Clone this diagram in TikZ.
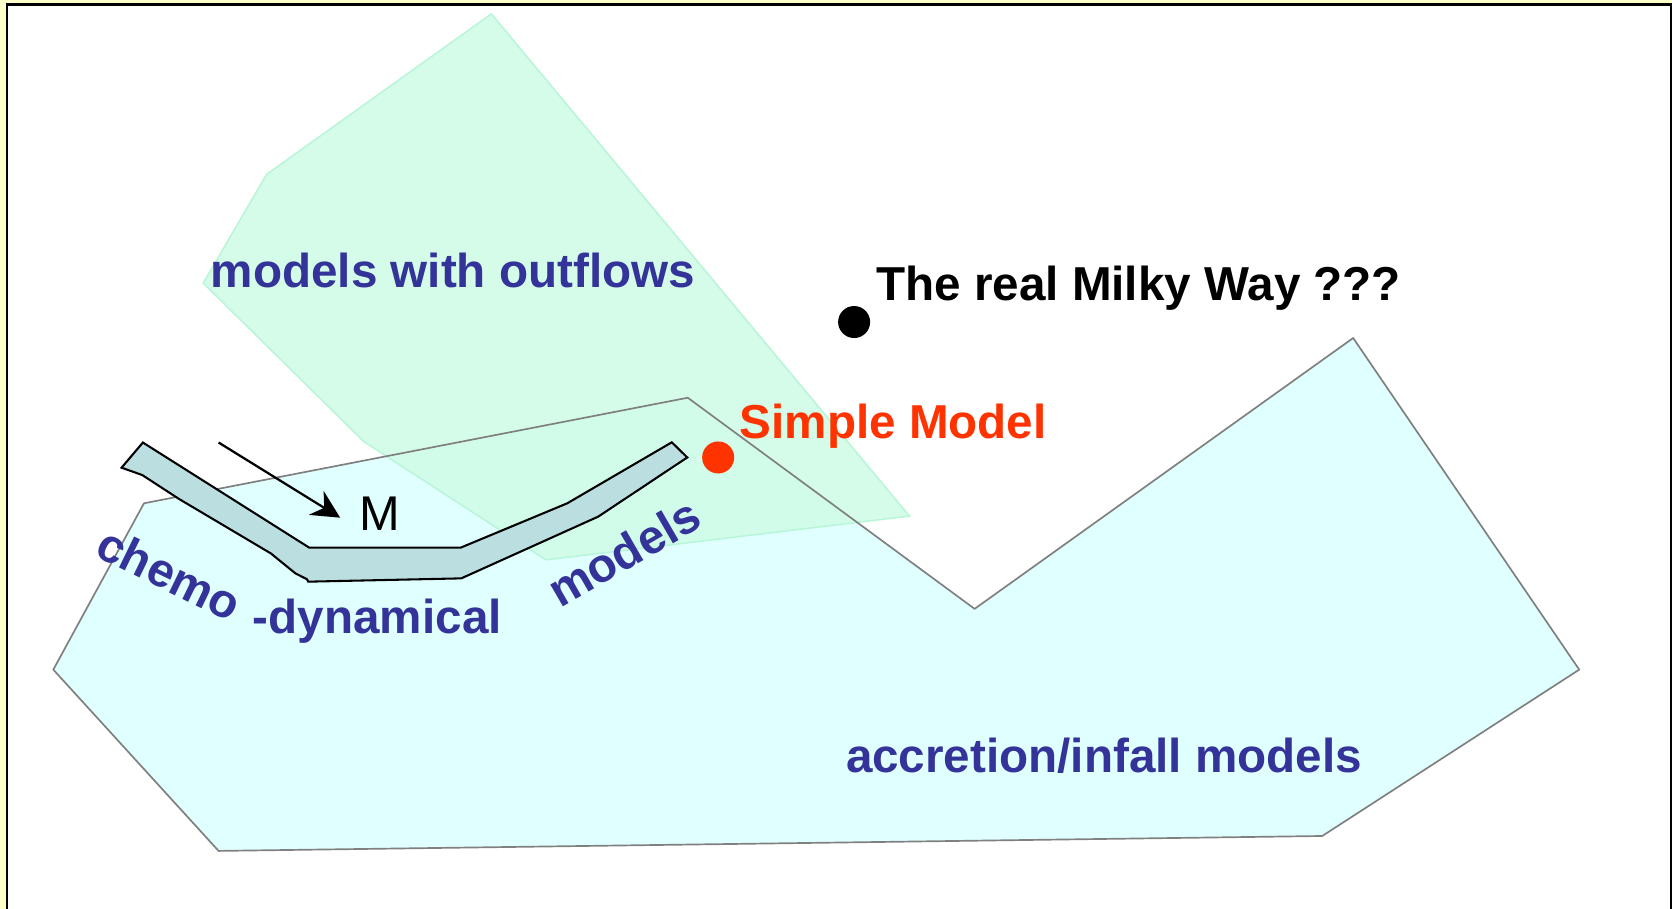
\documentclass[tikz,border=0pt]{standalone}
\usepackage{fontspec}
\setmainfont{Liberation Sans}
\usetikzlibrary{arrows.meta}
\definecolor{framey}{HTML}{FFFFCC}
\definecolor{outflow}{HTML}{CFFCE6}
\definecolor{outedge}{HTML}{B9F5D8}
\definecolor{infall}{HTML}{E0FFFF}
\definecolor{tube}{RGB}{187,222,224}
\definecolor{labblue}{HTML}{333399}
\definecolor{simred}{HTML}{FF3300}

\begin{document}
\begin{tikzpicture}[x=0.01cm,y=-0.01cm,
  lab/.style={font=\fontsize{12.7}{15}\selectfont\bfseries,text=labblue,inner sep=0pt},
  dot/.style={circle,minimum size=0.3cm,inner sep=0pt}]
\useasboundingbox (0,0) rectangle (1568,852);
\clip (0,0) rectangle (1568,852);
\fill[framey] (0,0) rectangle (1568,852);
\fill[white] (6.5,4.2) rectangle (1566.7,900);
\draw[line width=0.55pt] (6.5,900) -- (6.5,4.2) -- (1566.7,4.2) -- (1566.7,900);
\fill[infall] (135,472) -- (645,373) -- (914,571) -- (1269,317) -- (1481,628) -- (1240,784) -- (205,798) -- (50,628) -- cycle;
\filldraw[fill=outflow,draw=outedge,fill opacity=0.88,line width=0.4pt] (460.8,13) -- (250,163.5) -- (190.6,265.5) -- (341,414) -- (512,525) -- (853,484) -- cycle;
\draw[gray,line width=0.45pt,line join=round] (135,472) -- (645,373) -- (914,571) -- (1269,317) -- (1481,628) -- (1240,784) -- (205,798) -- (50,628) -- cycle;
\filldraw[fill=tube,draw=black,line width=0.55pt] (134,415) -- (290,513.6) -- (432,513.6) -- (532,472) -- (630,414.8) -- (644.5,429) -- (561,484.5) -- (432.6,542.4) -- (289,545.5) -- (288,543.3) -- (277,537.7) -- (254,519) -- (168,468) -- (133.4,445.5) -- (114,438.6) -- cycle;
\coordinate (mtail) at (205,415);
\coordinate (mtip) at (319,485.5);
\draw[-{Stealth[length=7.5pt,width=7.5pt,inset=2.5pt]},line width=0.6pt] (mtail) -- (mtip);
\node[font=\fontsize{13}{15}\selectfont,inner sep=0pt] (M) at (356,482) {M};
\node[lab,anchor=base west] (outflows) at (197,269.5) {models with outflows};
\node[lab,anchor=base west,text=black] (milkyway) at (821,282) {The real Milky Way ???};
\node[lab,anchor=base west,text=simred] (simple) at (693,411) {Simple Model};
\node[lab,anchor=base west] (infallmodels) at (792.7,724.3) {accretion/infall models};
\node[lab,anchor=base west] (dynamical) at (236.5,594) {-dynamical};
\node[lab,rotate=-26] (chemo) at (159,538) {chemo};
\node[lab,rotate=30] (chemomodels) at (585,518) {models};
\node[dot,fill=black] (realmw) at (801,302) {};
\node[dot,fill=simred] (simdot) at (673.5,429) {};
\end{tikzpicture}
\end{document}
